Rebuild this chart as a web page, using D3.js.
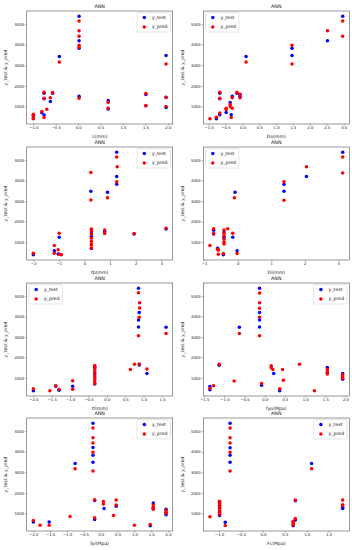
<!DOCTYPE html>
<html>
<head>
<meta charset="utf-8">
<script src="https://cdn.jsdelivr.net/npm/d3@7"></script>
<style>
  body { margin: 0; background: #fff; }
  svg { display: block; font-family: "DejaVu Sans", sans-serif; }
</style>
</head>
<body>
<div id="chart"></div>
<script>
'use strict';

// feature names under each panel
var featureLabels = ['L(mm)', 'Do(mm)', 'tb(mm)', 'Di(mm)', 'tf(mm)', 'fyo(Mpa)', 'fyi(Mpa)', 'Fc(Mpa)'];
var seriesNames = ['y_test', 'y_pred'];
var yTicks = [1000, 2000, 3000, 4000, 5000];

var lTicks = [-1.0, -0.5, 0.0, 0.5, 1.0, 1.5, 2.0];
var doTicks = [-1.0, -0.5, 0.0, 0.5, 1.0, 1.5, 2.0, 2.5, 3.0];
var tbTicks = [-2, -1, 0, 1, 2, 3];
var diTicks = [-1, 0, 1, 2, 3];
var tfTicks = [-2.0, -1.5, -1.0, -0.5, 0.0, 0.5, 1.0, 1.5];
var fyoTicks = [-1.5, -1.0, -0.5, 0.0, 0.5, 1.0, 1.5, 2.0];
var fyiTicks = [-2.0, -1.5, -1.0, -0.5, 0.0, 0.5, 1.0, 1.5, 2.0];
var fcTicks = [-1.0, -0.5, 0.0, 0.5, 1.0, 1.5];

// [x, y] pairs
var lTest = [[0.02,5390],[0.02,4200],[0.02,3830],[0.02,1500],[-0.42,3430],[1.96,3480],[1.96,1450],[1.96,950],[1.51,1580],[1.51,1040],[0.67,1290],[0.67,880],[-0.57,1650],[-0.62,1240],[-0.81,700],[-0.76,590],[-0.76,1650],[-0.76,1380],[-1.0,560],[-1.0,420]];
var lPred = [[0.02,5150],[0.02,4680],[0.02,4410],[0.02,3970],[0.02,3880],[0.02,1400],[-0.42,3160],[1.96,3060],[1.96,1440],[1.96,1000],[1.51,1630],[1.51,1050],[0.67,1210],[0.67,920],[-0.57,1680],[-0.62,1430],[-0.81,760],[-0.76,1690],[-0.76,1400],[-0.76,470],[-0.70,870],[-1.0,630],[-1.0,500],[-1.0,400]];

var doTest = [[2.97,5390],[2.52,4200],[1.47,3830],[1.47,3480],[0.11,3430],[-0.16,1650],[-0.07,1500],[-0.30,1500],[-0.36,1200],[-0.33,600],[-0.48,710],[-0.67,600],[-0.67,1650],[-0.67,1380],[-0.77,400],[-0.07,1580]];
var doPred = [[2.97,5150],[2.97,4410],[2.52,4680],[1.47,3970],[1.47,3060],[0.11,3160],[-0.16,1690],[-0.07,1600],[-0.07,1420],[-0.30,1420],[-0.30,920],[-0.36,1100],[-0.36,1000],[-0.33,470],[-0.48,920],[-0.48,850],[-0.67,680],[-0.67,1690],[-0.67,1400],[-0.77,480],[-0.96,400]];

var tbTest = [[-2.0,385],[-1.18,580],[-0.99,1240],[-1.03,430],[0.27,1500],[0.27,1290],[0.27,690],[0.25,3490],[0.90,3430],[0.79,1520],[1.26,5390],[1.26,4200],[1.26,3830],[1.94,1400],[3.19,1650]];
var tbPred = [[-2.0,465],[-1.18,840],[-1.18,465],[-0.99,1440],[-1.03,630],[-0.97,420],[-0.90,385],[0.27,1650],[0.27,1560],[0.27,1400],[0.27,1200],[0.27,1050],[0.27,920],[0.27,860],[0.27,720],[0.25,4400],[0.25,3060],[0.90,3170],[0.79,1600],[0.79,1420],[1.26,5150],[1.28,4680],[1.26,3950],[1.94,1420],[3.19,1680]];

var diTest = [[-0.72,1580],[-0.72,1400],[-0.6,710],[-0.43,385],[-0.41,1500],[-0.41,1240],[-0.15,1240],[-0.08,3430],[-0.02,580],[1.38,3820],[1.38,3490],[2.05,4200],[3.13,5390]];
var diPred = [[-0.83,840],[-0.72,1660],[-0.72,1420],[-0.6,660],[-0.58,610],[-0.58,420],[-0.43,450],[-0.41,1600],[-0.41,1420],[-0.41,1300],[-0.41,1140],[-0.41,1000],[-0.41,920],[-0.30,1660],[-0.15,1440],[-0.10,3170],[-0.02,450],[1.38,3950],[1.38,3040],[2.05,4680],[3.13,5150],[3.13,4370]];

var tfTest = [[-2.0,370],[-1.39,580],[-1.30,390],[-0.93,590],[-0.33,1500],[-0.33,1240],[-0.33,690],[0.86,5390],[0.88,4200],[0.86,3830],[0.86,3490],[0.88,1630],[1.09,1210],[1.61,3470]];
var tfPred = [[-2.0,460],[-1.55,360],[-1.39,610],[-1.30,440],[-0.93,850],[-0.93,440],[-0.33,1600],[-0.33,1540],[-0.33,1420],[-0.33,1300],[-0.33,1140],[-0.33,1050],[-0.33,960],[-0.33,860],[-0.33,720],[0.64,1410],[0.75,1660],[0.86,5160],[0.89,4680],[0.89,4420],[0.88,3970],[0.86,3060],[0.88,1680],[1.09,1430],[1.61,3170]];

var fyoTest = [[-1.36,570],[-1.36,420],[-1.13,1610],[-0.63,3470],[-0.13,5390],[-0.13,4200],[-0.13,3830],[-0.13,3490],[-0.08,640],[0.22,1210],[0.37,360],[1.55,1500],[1.55,1240],[1.93,1210],[1.93,930]];
var fyoPred = [[-1.36,470],[-1.27,610],[-1.13,1660],[-0.76,840],[-0.63,3170],[-0.13,5150],[-0.13,4680],[-0.13,4410],[-0.13,3970],[-0.13,3060],[-0.08,720],[0.16,1590],[0.16,1490],[0.2,1410],[0.44,1410],[0.46,880],[0.37,460],[0.86,1660],[1.23,360],[1.55,1400],[1.55,1300],[1.55,1190],[1.93,1150],[1.93,1050],[1.93,960]];

var fyiTest = [[-2.0,580],[-1.53,580],[-0.76,3430],[-0.23,5390],[-0.23,4200],[-0.23,3830],[-0.23,3490],[-0.18,1620],[-0.18,700],[0.10,1230],[0.46,1350],[1.47,390],[1.56,1500],[1.56,1250],[1.94,1200],[1.94,930]];
var fyiPred = [[-2.0,650],[-1.80,420],[-1.53,420],[-0.91,840],[-0.76,3170],[-0.23,5150],[-0.23,4680],[-0.23,4420],[-0.23,3970],[-0.23,3060],[-0.18,1660],[-0.18,780],[0.08,1580],[0.08,1450],[0.38,890],[0.46,1650],[0.46,1400],[1.0,420],[1.47,460],[1.56,1400],[1.56,1300],[1.56,1200],[1.94,1150],[1.94,1050],[1.94,1000]];

var fcTest = [[-0.99,1400],[-0.99,1300],[-0.99,1100],[-0.99,900],[-0.86,580],[-0.75,5390],[-0.75,4200],[-0.75,3830],[-0.75,3490],[0.69,400],[0.74,680],[0.74,1620],[1.11,3430],[1.82,1300],[1.82,1240]];
var fcPred = [[-1.21,840],[-0.99,1600],[-0.99,1550],[-0.99,1480],[-0.99,1380],[-0.99,1250],[-0.99,1150],[-0.99,1050],[-0.99,960],[-0.86,420],[-0.75,5150],[-0.75,4680],[-0.75,4420],[-0.75,3970],[-0.75,3060],[0.69,630],[0.69,560],[0.69,500],[0.69,440],[0.74,760],[0.74,1660],[1.11,3170],[1.82,1660],[1.82,1430],[1.82,1380]];

var panels = [
  { test: lTest, pred: lPred, ticks: lTicks, fmt: '.1f', legend: 'right' },
  { test: doTest, pred: doPred, ticks: doTicks, fmt: '.1f', legend: 'left' },
  { test: tbTest, pred: tbPred, ticks: tbTicks, fmt: 'd', legend: 'right' },
  { test: diTest, pred: diPred, ticks: diTicks, fmt: 'd', legend: 'left' },
  { test: tfTest, pred: tfPred, ticks: tfTicks, fmt: '.1f', legend: 'left' },
  { test: fyoTest, pred: fyoPred, ticks: fyoTicks, fmt: '.1f', legend: 'right' },
  { test: fyiTest, pred: fyiPred, ticks: fyiTicks, fmt: '.1f', legend: 'right' },
  { test: fcTest, pred: fcPred, ticks: fcTicks, fmt: '.1f', legend: 'right' }
];

var W = 352, H = 550;
var colLeft = [26.7, 203.3];
var rowTop = [11, 147, 283, 418];
var axW = 146, axH = 113;
var colors = ['#0000ff', '#ff0000'];

var svg = d3.select('#chart').append('svg')
  .attr('width', W)
  .attr('height', H);

svg.append('rect')
  .attr('width', W)
  .attr('height', H)
  .attr('fill', 'white');

// matplotlib-like autoscale: data extent plus 5% each side
function padded(values) {
  var ext = d3.extent(values);
  var pad = (ext[1] - ext[0]) * 0.05;
  return [ext[0] - pad, ext[1] + pad];
}

panels.forEach(function(p, i) {
  var x0 = colLeft[i % 2];
  var y0 = rowTop[Math.floor(i / 2)];
  var all = p.test.concat(p.pred);

  var x = d3.scaleLinear()
    .domain(padded(all.map(function(d) { return d[0]; })))
    .range([0, axW]);
  var y = d3.scaleLinear()
    .domain(padded(all.map(function(d) { return d[1]; })))
    .range([axH, 0]);

  var g = svg.append('g').attr('transform', 'translate(' + x0 + ',' + y0 + ')');

  var xAxis = d3.axisBottom(x).tickValues(p.ticks).tickFormat(d3.format(p.fmt))
    .tickSize(1.3).tickPadding(1.3).tickSizeOuter(0);
  var yAxis = d3.axisLeft(y).tickValues(yTicks).tickFormat(d3.format('d'))
    .tickSize(1.3).tickPadding(1.3).tickSizeOuter(0);

  var gx = g.append('g').attr('transform', 'translate(0,' + axH + ')').call(xAxis);
  var gy = g.append('g').call(yAxis);
  [gx, gy].forEach(function(a) {
    a.select('.domain').remove();
    a.selectAll('line').attr('stroke', '#333').attr('stroke-width', 0.5);
    a.selectAll('text')
      .attr('fill', '#111')
      .style('font-size', '3.8px')
      .style('font-family', '"DejaVu Sans", sans-serif');
  });

  var dots = g.append('g');
  [p.test, p.pred].forEach(function(series, k) {
    dots.selectAll('circle.s' + k)
      .data(series)
      .enter().append('circle')
      .attr('class', 's' + k)
      .attr('cx', function(d) { return x(d[0]); })
      .attr('cy', function(d) { return y(d[1]); })
      .attr('r', 1.75)
      .attr('fill', colors[k]);
  });

  g.append('rect')
    .attr('width', axW)
    .attr('height', axH)
    .attr('fill', 'none')
    .attr('stroke', '#555')
    .attr('stroke-width', 0.6);

  g.append('text')
    .attr('x', axW / 2)
    .attr('y', -3.3)
    .attr('text-anchor', 'middle')
    .attr('fill', '#111')
    .style('font-size', '4.8px')
    .text('ANN');

  g.append('text')
    .attr('x', axW / 2)
    .attr('y', axH + 13.8)
    .attr('text-anchor', 'middle')
    .attr('fill', '#111')
    .style('font-size', '4.6px')
    .text(featureLabels[i]);

  g.append('text')
    .attr('transform', 'translate(' + (-19.6) + ',' + (axH / 2) + ') rotate(-90)')
    .attr('text-anchor', 'middle')
    .attr('fill', '#111')
    .style('font-size', '4.6px')
    .text('y_test & y_pred');

  // legend
  var lw = 33.5, lh = 19.4;
  var lx = p.legend === 'right' ? axW - lw - 2.2 : 2.2;
  var lg = g.append('g').attr('transform', 'translate(' + lx + ',1.6)');
  lg.append('rect')
    .attr('width', lw)
    .attr('height', lh)
    .attr('rx', 1)
    .attr('fill', 'white')
    .attr('fill-opacity', 0.8)
    .attr('stroke', '#ccc')
    .attr('stroke-width', 0.5);
  seriesNames.forEach(function(name, k) {
    var ly = 5 + k * 9.3;
    lg.append('circle')
      .attr('cx', 7.3)
      .attr('cy', ly)
      .attr('r', 1.75)
      .attr('fill', colors[k]);
    lg.append('text')
      .attr('x', 15)
      .attr('y', ly + 1.6)
      .attr('fill', '#111')
      .style('font-size', '4.6px')
      .text(name);
  });
});
</script>
</body>
</html>
